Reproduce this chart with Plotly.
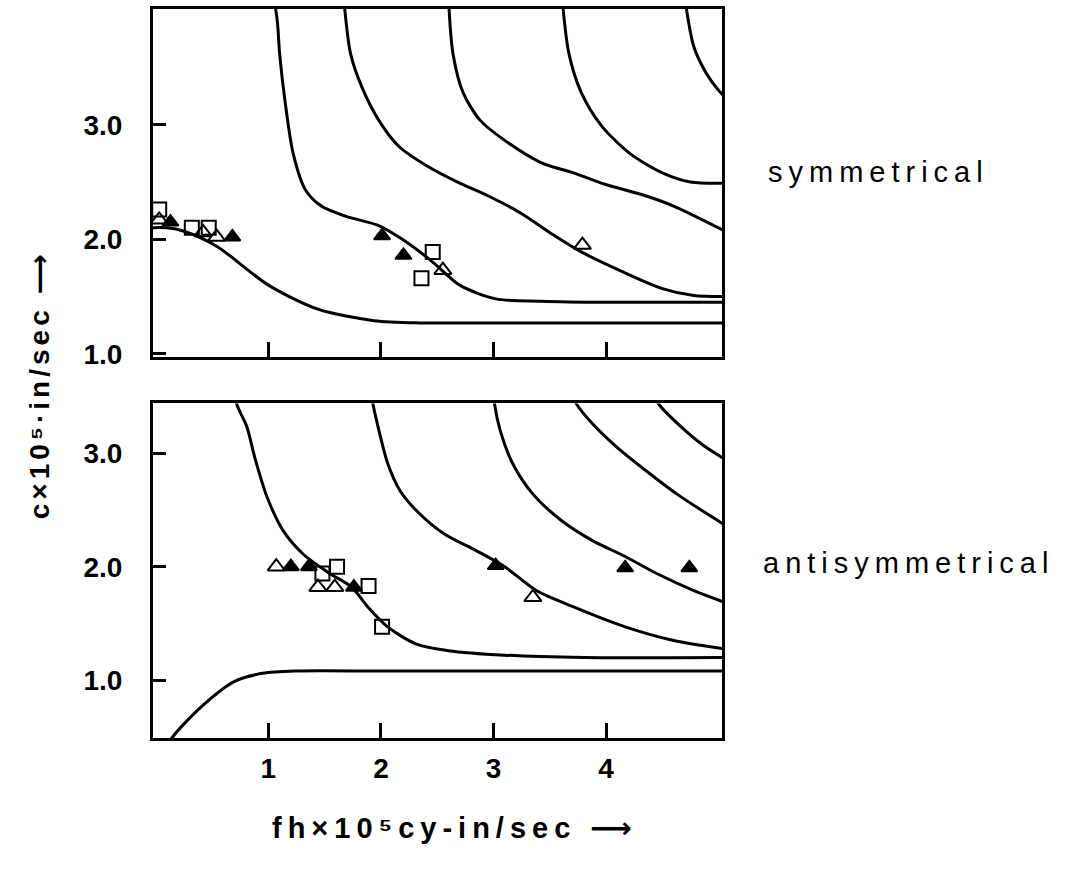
import plotly.graph_objects as go

# ---------------- data: top panel (symmetrical) ----------------
sA_x = [-0.05, 0.1, 0.25, 0.54, 1.0, 1.44, 1.94, 2.34, 3.0, 4.0, 5.1]
sA_y = [2.10, 2.10, 2.07, 1.94, 1.60, 1.39, 1.29, 1.27, 1.27, 1.27, 1.27]
sB_x = [1.05, 1.08, 1.10, 1.15, 1.22, 1.33, 1.47, 1.69, 1.98, 2.19, 2.45, 2.70, 3.02, 3.42, 4.0, 5.1]
sB_y = [4.10, 3.90, 3.62, 3.19, 2.75, 2.43, 2.29, 2.20, 2.12, 2.00, 1.81, 1.60, 1.48, 1.46, 1.45, 1.45]
sC_x = [1.67, 1.73, 1.83, 1.98, 2.16, 2.41, 2.70, 2.95, 3.24, 3.53, 3.78, 4.14, 4.50, 4.78, 5.1]
sC_y = [4.10, 3.62, 3.33, 3.04, 2.81, 2.64, 2.49, 2.38, 2.23, 2.04, 1.89, 1.72, 1.57, 1.51, 1.50]
sD_x = [2.60, 2.64, 2.73, 2.88, 3.09, 3.42, 3.71, 3.99, 4.35, 4.60, 5.1]
sD_y = [4.10, 3.62, 3.28, 3.04, 2.87, 2.67, 2.58, 2.48, 2.38, 2.29, 2.05]
sE_x = [3.61, 3.67, 3.78, 3.96, 4.21, 4.50, 4.75, 5.1]
sE_y = [4.10, 3.62, 3.28, 2.99, 2.75, 2.58, 2.50, 2.49]
sF_x = [4.70, 4.78, 4.89, 5.0, 5.1]
sF_y = [4.10, 3.68, 3.45, 3.30, 3.20]

s_sq_x = [0.03, 0.32, 0.47, 2.46, 2.36]
s_sq_y = [2.26, 2.10, 2.10, 1.89, 1.66]
s_to_x = [0.03, 0.42, 0.54, 2.55, 3.79]
s_to_y = [2.17, 2.06, 2.02, 1.73, 1.95]
s_tf_x = [0.13, 0.68, 2.01, 2.20]
s_tf_y = [2.15, 2.02, 2.03, 1.86]

# ---------------- data: bottom panel (antisymmetrical) ----------------
aA_x = [0.10, 0.15, 0.42, 0.70, 0.95, 1.24, 2.0, 3.0, 4.0, 5.1]
aA_y = [0.40, 0.50, 0.78, 0.99, 1.06, 1.08, 1.08, 1.08, 1.08, 1.08]
aB_x = [0.70, 0.72, 0.81, 0.88, 0.99, 1.13, 1.31, 1.53, 1.74, 1.88, 2.06, 2.31, 2.60, 3.10, 3.81, 5.1]
aB_y = [3.55, 3.43, 3.23, 2.96, 2.61, 2.32, 2.11, 1.95, 1.82, 1.65, 1.47, 1.32, 1.26, 1.22, 1.20, 1.20]
aC_x = [1.91, 1.93, 1.99, 2.06, 2.17, 2.31, 2.56, 2.85, 3.10, 3.38, 3.70, 4.17, 4.60, 5.1]
aC_y = [3.55, 3.43, 3.17, 2.91, 2.67, 2.50, 2.29, 2.14, 2.00, 1.79, 1.65, 1.47, 1.35, 1.27]
aD_x = [3.00, 3.01, 3.06, 3.17, 3.35, 3.60, 3.88, 4.17, 4.45, 4.78, 5.1]
aD_y = [3.55, 3.43, 3.20, 2.91, 2.64, 2.41, 2.23, 2.09, 1.94, 1.79, 1.67]
aE_x = [3.68, 3.74, 3.88, 4.10, 4.35, 4.63, 5.1]
aE_y = [3.55, 3.43, 3.26, 3.05, 2.85, 2.64, 2.34]
aF_x = [4.40, 4.47, 4.67, 4.85, 5.1]
aF_y = [3.55, 3.43, 3.23, 3.08, 2.92]

a_sq_x = [1.48, 1.61, 1.89, 2.01]
a_sq_y = [1.94, 2.00, 1.83, 1.47]
a_to_x = [1.07, 1.44, 1.59, 3.35]
a_to_y = [2.00, 1.82, 1.82, 1.73]
a_tf_x = [1.20, 1.36, 1.76, 3.02, 4.17, 4.74]
a_tf_y = [2.00, 2.00, 1.82, 2.01, 1.99, 1.99]

x_ticks = [1, 2, 3, 4]
x_tick_text = ["1", "2", "3", "4"]
y_ticks = [1.0, 2.0, 3.0]
y_tick_text = ["1.0", "2.0", "3.0"]

top_label = "symmetrical"
bottom_label = "antisymmetrical"
y_title = "c×10⁵·in/sec ⟶"
x_title = "fh×10⁵cy-in/sec ⟶"

FONT = "Liberation Sans, Arial, DejaVu Sans, sans-serif"
fig = go.Figure()

line_style = dict(color="black", width=3, shape="spline", smoothing=0.8)

for xs, ys in [(sA_x, sA_y), (sB_x, sB_y), (sC_x, sC_y), (sD_x, sD_y), (sE_x, sE_y), (sF_x, sF_y)]:
    fig.add_trace(go.Scatter(x=xs, y=ys, mode="lines", line=line_style, xaxis="x", yaxis="y",
                             showlegend=False, hoverinfo="skip"))
for xs, ys in [(aA_x, aA_y), (aB_x, aB_y), (aC_x, aC_y), (aD_x, aD_y), (aE_x, aE_y), (aF_x, aF_y)]:
    fig.add_trace(go.Scatter(x=xs, y=ys, mode="lines", line=line_style, xaxis="x2", yaxis="y2",
                             showlegend=False, hoverinfo="skip"))

def markers(xs, ys, symbol, size, xa, ya):
    fig.add_trace(go.Scatter(x=xs, y=ys, mode="markers", xaxis=xa, yaxis=ya, showlegend=False,
                             marker=dict(symbol=symbol, size=size, color="black",
                                         line=dict(color="black", width=2)), cliponaxis=False))

markers(s_sq_x, s_sq_y, "square-open", 14, "x", "y")
markers(s_to_x, s_to_y, "triangle-up-open", 15, "x", "y")
markers(s_tf_x, s_tf_y, "triangle-up", 14, "x", "y")
markers(a_sq_x, a_sq_y, "square-open", 14, "x2", "y2")
markers(a_to_x, a_to_y, "triangle-up-open", 15, "x2", "y2")
markers(a_tf_x, a_tf_y, "triangle-up", 14, "x2", "y2")

tickfont = dict(family=FONT, size=28, color="black", weight="bold")
xrange = [-0.025, 5.03]
common_x = dict(range=xrange, showline=True, linewidth=3, linecolor="black", mirror=True,
                ticks="inside", ticklen=15, tickwidth=3, tickcolor="black",
                tickvals=x_ticks, showgrid=False, zeroline=False,
                tickfont=tickfont, fixedrange=True)
common_y = dict(showline=True, linewidth=3, linecolor="black", mirror=True,
                ticks="inside", ticklen=13, tickwidth=3, tickcolor="black",
                tickvals=y_ticks, ticktext=y_tick_text, showgrid=False, zeroline=False,
                tickfont=tickfont, ticklabelstandoff=22, fixedrange=True)

fig.update_layout(
    width=1066, height=869,
    paper_bgcolor="white", plot_bgcolor="white",
    margin=dict(l=153, r=344, t=6, b=131),
    xaxis=dict(common_x, anchor="y", domain=[0, 1], showticklabels=False),
    yaxis=dict(common_y, anchor="x", domain=[0.523, 1.0], range=[0.975, 4.01]),
    xaxis2=dict(common_x, anchor="y2", domain=[0, 1], ticktext=x_tick_text, ticklabelstandoff=3),
    yaxis2=dict(common_y, anchor="x2", domain=[0.0, 0.459], range=[0.49, 3.44]),
    font=dict(family=FONT, color="black"),
)

ann_font = dict(family=FONT, size=29, color="black")
fig.add_annotation(text=top_label,
                   xref="paper", yref="paper", x=1.275, y=0.776, showarrow=False,
                   xanchor="center", yanchor="middle", font=ann_font)
fig.add_annotation(text=bottom_label,
                   xref="paper", yref="paper", x=1.328, y=0.240, showarrow=False,
                   xanchor="center", yanchor="middle", font=ann_font)
fig.add_annotation(text=y_title,
                   xref="paper", yref="paper", x=-0.199, y=0.485, showarrow=False,
                   textangle=-90, xanchor="center", yanchor="middle",
                   font=dict(family=FONT, size=28, color="black", weight="bold"))
fig.add_annotation(text=x_title,
                   xref="paper", yref="paper", x=0.531, y=-0.123, showarrow=False,
                   xanchor="center", yanchor="middle",
                   font=dict(family=FONT, size=29, color="black", weight="bold"))

post = """
document.body.style.margin = '0';
document.body.style.padding = '0';
var gd = document.getElementById('{plot_id}');
gd.querySelectorAll('.annotation-text').forEach(function (t) {
  var s = t.textContent || '';
  if (s.indexOf('symmetrical') >= 0) { t.style.letterSpacing = '6px'; }
  else if (s.indexOf('fh') >= 0) { t.style.letterSpacing = '6px'; }
  else { t.style.letterSpacing = '4px'; }
});
"""

fig.write_html("out.html", post_script=post, config={"displayModeBar": False})
